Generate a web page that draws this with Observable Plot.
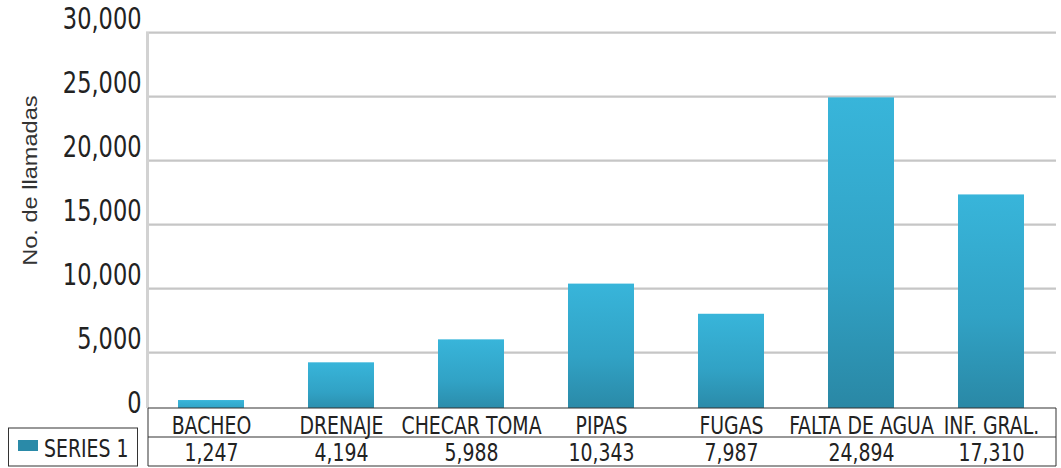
<!DOCTYPE html>
<html>
<head>
<meta charset="utf-8">
<script src="https://cdn.jsdelivr.net/npm/d3@7"></script>
<script src="https://cdn.jsdelivr.net/npm/@observablehq/plot@0.6"></script>
<style>
  html, body { margin: 0; padding: 0; background: #fff; }
  #chart { width: 1061px; height: 468px; position: relative; }
  #chart svg { display: block; transform: scaleY(1.18); transform-origin: 0 0; }
</style>
</head>
<body>
<div id="chart"></div>
<script>
// ---- data ----
const categories = ["BACHEO", "DRENAJE", "CHECAR TOMA", "PIPAS", "FUGAS", "FALTA DE AGUA", "INF. GRAL."];
const values = [1247, 4194, 5988, 10343, 7987, 24894, 17310];
const yTicks = [0, 5000, 10000, 15000, 20000, 25000, 30000];
const seriesName = "SERIES 1";
const yLabel = "No. de llamadas";

const rows = categories.map((c, i) => ({cat: c, value: values[i]}));

// ---- layout (reference pixels divided by vertical stretch) ----
const s = 1.18;
const W = 1061, H = 468 / s;
const tableFont = "DejaVu Sans Condensed, DejaVu Sans, sans-serif";

const plot = Plot.plot({
  width: W,
  height: H,
  marginLeft: 146,
  marginRight: 5,
  marginTop: 32 / s,
  marginBottom: H - 408 / s,
  style: {background: "transparent", overflow: "visible"},
  x: {domain: categories, paddingInner: 0.49, paddingOuter: 0.245, axis: null},
  y: {domain: [0, 30000], range: [416 / s, 32 / s], axis: null},
  marks: [
    Plot.ruleY(yTicks.filter(d => d > 0), {stroke: "#c6c6c6", strokeWidth: 2}),
    Plot.barY(rows, {x: "cat", y: "value", fill: "url(#barGrad)", clip: true}),
    Plot.axisY({ticks: yTicks, tickFormat: d3.format(","), tickSize: 0, tickPadding: 5,
                label: null, dy: -13 / s, fontSize: 25, fontFamily: tableFont, color: "#222"}),
    Plot.text([yLabel], {frameAnchor: "left", textAnchor: "middle", lineAnchor: "middle", rotate: -90,
                dx: -116, dy: 180 / s - (32 / s + 408 / s) / 2,
                fontSize: 20, fontFamily: "Liberation Sans, Arial, sans-serif", fill: "#333"}),
    Plot.text(rows, {x: "cat", y: 0, dy: 9 / s, text: "cat", fontSize: 21, fontFamily: tableFont, fill: "#222"}),
    Plot.text(rows, {x: "cat", y: 0, dy: 36 / s, text: d => d3.format(",")(d.value), fontSize: 21, fontFamily: tableFont, fill: "#222"})
  ]
});

document.getElementById("chart").appendChild(plot);

const svg = d3.select(plot);
// gradient for bars
const defs = svg.insert("defs", ":first-child");
const g = defs.append("linearGradient").attr("id", "barGrad").attr("x1", 0).attr("y1", 0).attr("x2", 0).attr("y2", 1);
g.append("stop").attr("offset", "0%").attr("stop-color", "#38b5da");
g.append("stop").attr("offset", "55%").attr("stop-color", "#31a2c5");
g.append("stop").attr("offset", "100%").attr("stop-color", "#2986a3");

// y axis line
const deco = svg.append("g");
deco.append("line").attr("x1", 147.5).attr("x2", 147.5).attr("y1", 32 / s).attr("y2", 408 / s)
  .attr("stroke", "#d2d2d2").attr("stroke-width", 3);

// data table borders
const tl = 148, tr = 1056;
[408, 437, 466].forEach(y => {
  deco.append("line").attr("x1", tl).attr("x2", tr).attr("y1", y / s).attr("y2", y / s)
    .attr("stroke", "#333").attr("stroke-width", 1).attr("vector-effect", "non-scaling-stroke");
});
[tl, tr].forEach(x => {
  deco.append("line").attr("x1", x).attr("x2", x).attr("y1", 408 / s).attr("y2", 466 / s)
    .attr("stroke", "#333").attr("stroke-width", 1).attr("vector-effect", "non-scaling-stroke");
});

// legend box
deco.append("rect").attr("x", 8.5).attr("y", 428 / s).attr("width", 129).attr("height", 38 / s)
  .attr("fill", "none").attr("stroke", "#333").attr("stroke-width", 1).attr("vector-effect", "non-scaling-stroke");
deco.append("rect").attr("x", 18).attr("y", 440 / s).attr("width", 20).attr("height", 11 / s).attr("fill", "#2a8aa8");
deco.append("text").attr("x", 44).attr("y", 448 / s).attr("dy", "0.35em").attr("text-anchor", "start")
  .attr("font-family", tableFont).attr("font-size", 21).attr("fill", "#222").text(seriesName);
</script>
</body>
</html>
